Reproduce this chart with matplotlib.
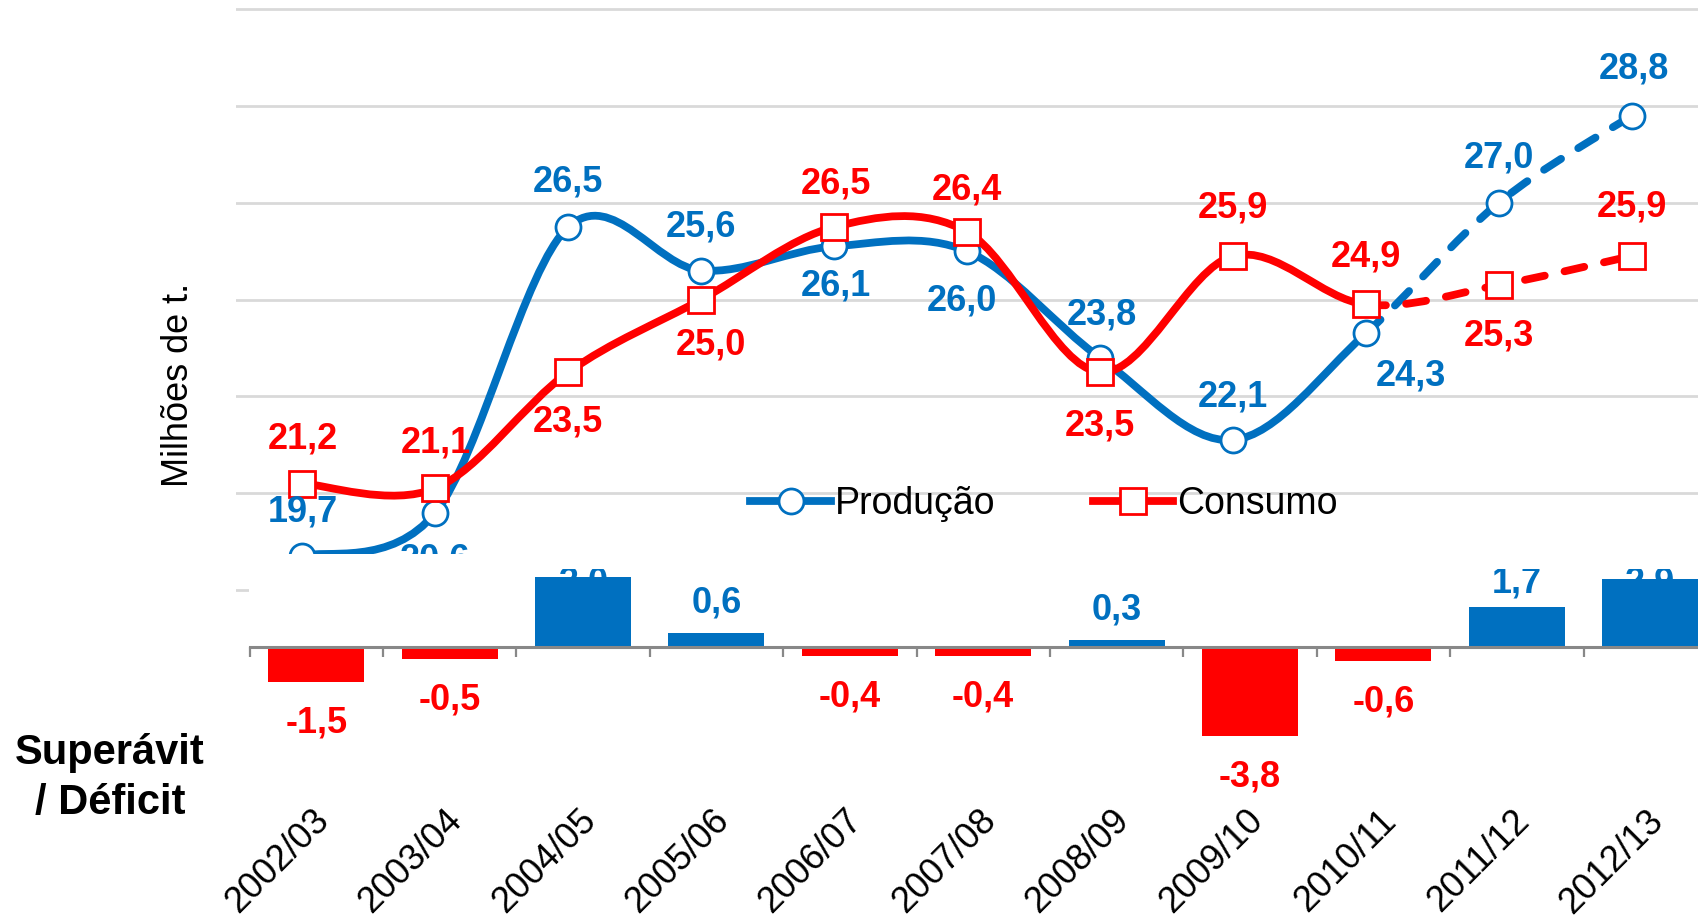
import matplotlib
matplotlib.use("Agg")
import matplotlib.pyplot as plt
import matplotlib.transforms as mtrans
import numpy as np
from matplotlib.path import Path
from matplotlib.patches import PathPatch, Rectangle
from matplotlib.lines import Line2D

plt.rcParams['font.family'] = ['Liberation Sans', 'DejaVu Sans']

# data
safras = ['2002/03', '2003/04', '2004/05', '2005/06', '2006/07', '2007/08',
          '2008/09', '2009/10', '2010/11', '2011/12', '2012/13']
producao = [19.7, 20.6, 26.5, 25.6, 26.1, 26.0, 23.8, 22.1, 24.3, 27.0, 28.8]
consumo = [21.2, 21.1, 23.5, 25.0, 26.5, 26.4, 23.5, 25.9, 24.9, 25.3, 25.9]
saldo = [-1.5, -0.5, 3.0, 0.6, -0.4, -0.4, 0.3, -3.8, -0.6, 1.7, 2.9]
n_real = 9  # last 2 seasons are projections (dashed)

# label placement (pixels, dy>0 = above)
prod_off = [(0, 44), (0, -47), (0, 45), (0, 44), (2, -40), (-5, -50),
            (2, 43), (0, 43), (45, -43), (0, 45), (2, 47)]
cons_off = [(0, 45), (0, 45), (0, -50), (10, -45), (2, 43), (0, 42),
            (0, -54), (0, 48), (0, 47), (0, -51), (0, 49)]

BLUE = '#0070C0'
RED = '#FF0000'
GRID = '#D9D9D9'
AXGRAY = '#888888'
PX = 0.72  # pixels -> points at dpi 100

W, H = 1698, 923
fig = plt.figure(figsize=(W / 100, H / 100), dpi=100)


def smooth_path(xs, ys, start, end):
    # Excel-like smoothed line: cubic bezier through the points
    pts = np.column_stack([xs, ys]).astype(float)
    n = len(pts)
    verts = [pts[start]]
    codes = [Path.MOVETO]
    for i in range(start, end):
        p0 = pts[max(i - 1, 0)]
        p1 = pts[i]
        p2 = pts[i + 1]
        p3 = pts[min(i + 2, n - 1)]
        verts += [p1 + (p2 - p0) / 6, p2 - (p3 - p1) / 6, p2]
        codes += [Path.CURVE4] * 3
    return Path(verts, codes)


# ---------- upper chart (lines) ----------
y_top_px, y_bot_px = 0, 640
px_per_unit = 48.4
ymax = 31.19
ax = fig.add_axes([236 / W, 1 - y_bot_px / H, (W - 236) / W, (y_bot_px - y_top_px) / H])
ax.set_yticks(np.arange(19, 32, 2))
ax.set_xticks([])
ax.set_xlim(-0.5, 10.5)
ax.set_ylim(ymax - (y_bot_px - y_top_px) / px_per_unit, ymax)
for s in ax.spines.values():
    s.set_visible(False)
ax.tick_params(axis='y', length=0, labelleft=False)
ax.grid(axis='y', color=GRID, lw=2)
ax.set_axisbelow(True)

x = np.arange(len(safras))
lw = 5.6
for vals, col, mk, ms, z in [(producao, BLUE, 'o', 18, 3), (consumo, RED, 's', 19, 5)]:
    solid = PathPatch(smooth_path(x, vals, 0, n_real - 1), fill=False, ec=col, lw=lw,
                      capstyle='round', joinstyle='round', zorder=z)
    dashed = PathPatch(smooth_path(x, vals, n_real - 1, len(x) - 1), fill=False, ec=col, lw=lw,
                       linestyle=(0, (2.6, 2.6)), capstyle='round', joinstyle='round', zorder=z)
    ax.add_patch(solid)
    ax.add_patch(dashed)
    ax.plot(x, vals, linestyle='none', marker=mk, ms=ms, mfc='white', mec=col,
            mew=2, zorder=z + 1)

for vals, offs, col in [(producao, prod_off, BLUE), (consumo, cons_off, RED)]:
    for xi, v, (dx, dy) in zip(x, vals, offs):
        ax.annotate(f'{v:.1f}'.replace('.', ','), (xi, v), xytext=(dx * PX, dy * PX),
                    textcoords='offset points', ha='center', va='center',
                    fontsize=26, fontweight='bold', color=col, zorder=10)

handles = [Line2D([], [], color=BLUE, lw=lw, marker='o', ms=18, mfc='white', mec=BLUE, mew=2),
           Line2D([], [], color=RED, lw=lw, marker='s', ms=19, mfc='white', mec=RED, mew=2)]
fig.legend(handles, ['Produção', 'Consumo'], loc='center',
           bbox_to_anchor=(1044 / W, 1 - 504 / H), ncol=2, frameon=False,
           fontsize=27, handlelength=2.15, handletextpad=0.1, columnspacing=2.6,
           borderpad=0, borderaxespad=0)

# white cover of the bar chart area (hides the lower part of the line chart)
fig.add_artist(Rectangle((249.5 / W, 0), 1 - 249.5 / W, 1 - 554 / H,
                         transform=fig.transFigure, fc='white', ec='none', zorder=1))

# ---------- lower chart (bars) ----------
bar_top_px, bar_bot_px, zero_px = 569, 800, 647
bar_ppu = 23.5
bx0 = 249.5
bar_step = 133.4
axb = fig.add_axes([bx0 / W, 1 - bar_bot_px / H, (W - bx0) / W, (bar_bot_px - bar_top_px) / H],
                   zorder=2)
axb.patch.set_visible(False)

cols = [BLUE if v > 0 else RED for v in saldo]
axb.bar(x, saldo, width=0.72, color=cols, zorder=2)

for side in ['top', 'left', 'right']:
    axb.spines[side].set_visible(False)
axb.spines['bottom'].set_position(('data', 0))
axb.spines['bottom'].set_color(AXGRAY)
axb.spines['bottom'].set_linewidth(2.2)
axb.spines['bottom'].set_zorder(3)
axb.set_yticks([])
axb.set_xticks(np.arange(len(safras) + 1) - 0.5, minor=True)
axb.tick_params(axis='x', which='minor', length=7.5, width=1.6, color=AXGRAY, direction='out')
axb.set_xticks(x, safras, rotation=45, ha='right', va='top', rotation_mode='anchor')
axb.tick_params(axis='x', which='major', length=0, pad=(803 - zero_px) * PX, labelsize=26)
shift = mtrans.ScaledTranslation(-5 / 100, 0, fig.dpi_scale_trans)
for lab in axb.get_xticklabels():
    lab.set_transform(lab.get_transform() + shift)

ytop = (zero_px - bar_top_px) / bar_ppu
axb.set_xlim(-0.5, -0.5 + (W - bx0) / bar_step)
axb.set_ylim(-(bar_bot_px - zero_px) / bar_ppu, ytop)

# labels: outside end, but kept inside the plot area like Excel does
for xi, v, c in zip(x, saldo, cols):
    if v > 0:
        ylab = min(v + 30 / bar_ppu, ytop - 14 / bar_ppu)
    else:
        ylab = v - 41 / bar_ppu
    axb.text(xi, ylab, f'{v:.1f}'.replace('.', ','), ha='center', va='center',
             fontsize=26, fontweight='bold', color=c, clip_on=True, zorder=4)

fig.text(178 / W, 1 - 385 / H, 'Milhões de t.', rotation=90, ha='center', va='center',
         fontsize=26)
fig.text(110 / W, 1 - 778 / H, 'Superávit\n/ Déficit', ha='center', va='center',
         fontsize=30, fontweight='bold', linespacing=1.35, zorder=5)

fig.savefig('out.png', dpi=100, facecolor='white')
